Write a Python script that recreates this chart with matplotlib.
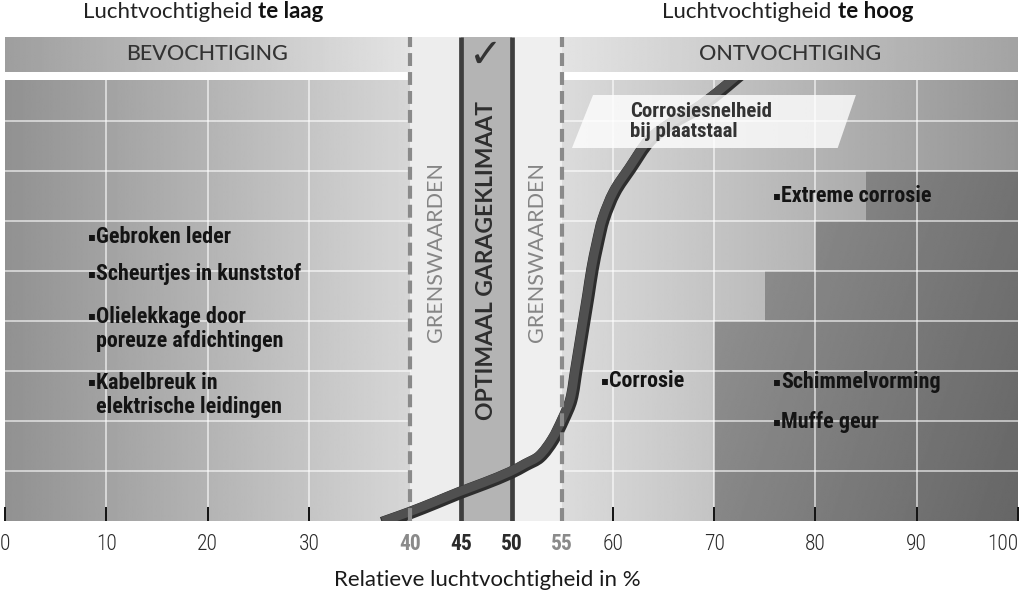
import numpy as np
import matplotlib
matplotlib.use("Agg")
import matplotlib.pyplot as plt
from matplotlib.patches import Polygon, Rectangle, PathPatch
from matplotlib.path import Path
from matplotlib import transforms
from matplotlib import font_manager as fm

# ---------------- data ----------------
x_ticks = [0, 10, 20, 30, 40, 45, 50, 55, 60, 70, 80, 90, 100]
tick_labels = [str(v) for v in x_ticks]
grey_ticks = [40, 55]
bold_ticks = [40, 45, 50, 55]

# corrosion-rate curve for sheet steel (relative humidity %, relative rate)
curve_rh = [37.8, 40.0, 42.5, 44.9, 47.4, 49.9, 51.4, 52.8, 54.1, 55.1, 55.9,
            56.4, 56.8, 57.2, 57.6, 58.0, 58.5, 59.1, 60.2, 61.7, 63.7, 65.9,
            68.3, 70.3, 72.2]
curve_rate = [0.0, 0.16, 0.36, 0.56, 0.75, 0.96, 1.12, 1.28, 1.62, 2.02, 2.42,
              3.02, 3.52, 4.02, 4.52, 5.04, 5.54, 6.04, 6.58, 7.04, 7.62, 7.96,
              8.24, 8.54, 8.86]

# staircase (mould / extreme corrosion zone)
stair_rh = [70, 75, 80, 85, 100]
stair_level = [4, 5, 6, 7, 7]

# zones
humidify = (0, 40)
border_low = (40, 45)
optimal = (45, 50)
border_high = (50, 55)
dehumidify = (55, 100)

left_items = ["Gebroken leder", "Scheurtjes in kunststof",
              "Olielekkage door\nporeuze afdichtingen",
              "Kabelbreuk in\nelektrische leidingen"]
left_item_y = [5.68, 4.94, 3.84, 2.52]
right_items = ["Corrosie", "Extreme corrosie", "Schimmelvorming", "Muffe geur"]
right_item_x = [59.6, 76.6, 76.6, 76.6]
right_item_y = [2.80, 6.50, 2.78, 1.98]


# ---------------- fonts ----------------
def weights_of(name):
    ws = set()
    for f in fm.fontManager.ttflist:
        if f.name == name and f.style == "normal":
            try:
                ws.add(int(f.weight))
            except (TypeError, ValueError):
                pass
    return ws


def pick(cands, weight):
    for c in cands:
        if any(abs(w - weight) <= 100 for w in weights_of(c)):
            return [c, "DejaVu Sans"]
    return ["DejaVu Sans"]


COND = ["Roboto Condensed", "Archivo Narrow", "Arial Narrow",
        "Liberation Sans Narrow", "PT Sans Narrow", "IBM Plex Sans Condensed",
        "Fira Sans Condensed", "Encode Sans Condensed"]
NARROW_B = pick(COND, 700)
NARROW_L = pick(COND, 300)
SANS = pick(["Lato", "Open Sans", "Noto Sans"], 400)
ITEM_W = 800 if 800 in weights_of(NARROW_B[0]) else 700

# ---------------- layout ----------------
PANEL_TOP = 8.82
HEAD_BOT, HEAD_TOP = 8.98, 9.68
YMAX = 10.42

fig = plt.figure(figsize=(10.23, 5.93), dpi=100)
ax = fig.add_axes([5 / 1023, 72 / 593, 1013 / 1023, 521 / 593])
ax.set_xlim(0, 100)
ax.set_ylim(0, YMAX)
for s in ax.spines.values():
    s.set_visible(False)
ax.set_yticks([])


def grad(x0, x1, y0, y1, v0, v1, z=0):
    arr = np.linspace(v0, v1, 256)[None, :]
    return ax.imshow(arr, extent=[x0, x1, y0, y1], cmap="gray", vmin=0, vmax=1,
                     aspect="auto", interpolation="bilinear", zorder=z)


# panels
grad(humidify[0], humidify[1], 0, PANEL_TOP, 0.57, 0.84)
grad(dehumidify[0], dehumidify[1], 0, PANEL_TOP, 0.86, 0.58)
# header bars
grad(humidify[0], humidify[1], HEAD_BOT, HEAD_TOP, 0.62, 0.89)
grad(dehumidify[0], dehumidify[1], HEAD_BOT, HEAD_TOP, 0.89, 0.64)

# staircase dark zone with 2D gradient
verts = [(stair_rh[0], 0), (stair_rh[0], stair_level[0])]
for i in range(1, len(stair_rh)):
    verts.append((stair_rh[i], stair_level[i - 1]))
    verts.append((stair_rh[i], stair_level[i]))
verts.append((stair_rh[-1], 0))
stair_poly = Polygon(verts, closed=True, transform=ax.transData,
                     facecolor="none", edgecolor="none")
ax.add_patch(stair_poly)
gx = np.linspace(0, 1, 200)[None, :]
gy = np.linspace(1, 0, 200)[:, None]
arr2 = 0.53 - 0.13 * gx + 0.05 * gy
im2 = ax.imshow(arr2, extent=[stair_rh[0], stair_rh[-1], 0, max(stair_level)],
                cmap="gray", vmin=0, vmax=1, aspect="auto",
                interpolation="bilinear", zorder=0.5)
im2.set_clip_path(stair_poly)

# middle bands
ax.add_patch(Rectangle((border_low[0], 0), border_low[1] - border_low[0], HEAD_TOP,
                       facecolor="#ededed", edgecolor="none", zorder=1))
ax.add_patch(Rectangle((optimal[0], 0), optimal[1] - optimal[0], HEAD_TOP,
                       facecolor="#b4b4b4", edgecolor="none", zorder=1))
ax.add_patch(Rectangle((border_high[0], 0), border_high[1] - border_high[0], HEAD_TOP,
                       facecolor="#efefef", edgecolor="none", zorder=1))

# grid lines
gcol = (1, 1, 1, 0.62)
for lv in range(1, 9):
    ax.plot([humidify[0], humidify[1]], [lv, lv], color=gcol, lw=1.3, zorder=1.5)
    ax.plot([dehumidify[0], dehumidify[1]], [lv, lv], color=gcol, lw=1.3, zorder=1.5)
for gxv in [10, 20, 30, 60, 70, 80, 90]:
    ax.plot([gxv, gxv], [0, PANEL_TOP], color=gcol, lw=1.3, zorder=1.5)

# optimal lines
for v in optimal:
    ax.plot([v, v], [0, HEAD_TOP], color="#3e3e3e", lw=3.4, zorder=2,
            solid_capstyle="butt")


# curve: smooth Bezier path through the read points (chord-length Hermite,
# computed in display-like units so that the bends look even)
def smooth_path(xs, ys, sx=10.13, sy=50.0):
    sc = np.array([sx, sy])
    P = np.column_stack([xs, ys]).astype(float) * sc
    d = np.linalg.norm(np.diff(P, axis=0), axis=1)
    t = np.concatenate([[0.0], np.cumsum(d)])
    n = len(P)
    m = np.zeros_like(P)
    m[0] = (P[1] - P[0]) / (t[1] - t[0])
    m[-1] = (P[-1] - P[-2]) / (t[-1] - t[-2])
    for i in range(1, n - 1):
        m[i] = (P[i + 1] - P[i - 1]) / (t[i + 1] - t[i - 1])
    vv = [P[0]]
    cc = [Path.MOVETO]
    for i in range(n - 1):
        h = t[i + 1] - t[i]
        vv += [P[i] + m[i] * h / 3.0, P[i + 1] - m[i + 1] * h / 3.0, P[i + 1]]
        cc += [Path.CURVE4] * 3
    return Path(np.array(vv) / sc, cc)


clip_rect = Rectangle((0, 0), 100, PANEL_TOP, transform=ax.transData,
                      facecolor="none", edgecolor="none")
ax.add_patch(clip_rect)
cpath = smooth_path(curve_rh, curve_rate)
c1 = PathPatch(cpath, facecolor="none", edgecolor="#2e2e2e", lw=9.0,
               capstyle="projecting", joinstyle="round", zorder=4)
ax.add_patch(c1)
c1.set_clip_path(clip_rect)
off = transforms.offset_copy(ax.transData, fig=fig, x=-0.8, y=0.8, units="points")
c2 = PathPatch(cpath, facecolor="none", edgecolor="#505050", lw=6.5,
               capstyle="projecting", joinstyle="round", zorder=4.1,
               transform=off)
ax.add_patch(c2)
c2.set_clip_path(clip_rect)

# dashed border lines (over the curve)
for v in (border_low[0], border_high[1]):
    ax.plot([v, v], [0, HEAD_TOP], color="#8a8a8a", lw=3.0, zorder=5,
            linestyle=(0, (3.1, 1.45)))

# parallelogram label
para = Polygon([(58.05, 8.52), (84.0, 8.52), (82.2, 7.46), (55.97, 7.46)],
               closed=True, facecolor="white", edgecolor="none", alpha=0.8,
               zorder=6)
ax.add_patch(para)
ax.text(61.7, 7.99, "Corrosiesnelheid\nbij plaatstaal", family=NARROW_B,
        fontweight=ITEM_W, fontsize=15, color="#333333", ha="left",
        va="center", linespacing=1.12, zorder=7)

# item texts
ICOL = "#141414"
ITEM_FS = 15.8
for txt, yv in zip(left_items, left_item_y):
    first = yv + (0.26 if "\n" in txt else 0)
    ax.text(8.2, first, "\u25aa", family=["DejaVu Sans"], fontsize=8.5,
            color=ICOL, ha="left", va="center", zorder=7)
    ax.text(9.0, yv, txt, family=NARROW_B, fontweight=ITEM_W, fontsize=ITEM_FS,
            color=ICOL, ha="left", va="center", linespacing=1.17, zorder=7)
for txt, xv, yv in zip(right_items, right_item_x, right_item_y):
    ax.text(xv - 0.8, yv, "\u25aa", family=["DejaVu Sans"], fontsize=8.5,
            color=ICOL, ha="left", va="center", zorder=7)
    ax.text(xv, yv, txt, family=NARROW_B, fontweight=ITEM_W, fontsize=ITEM_FS,
            color=ICOL, ha="left", va="center", zorder=7)

# vertical zone texts
for xv in (42.5, 52.5):
    ax.text(xv, 5.38, "GRENSWAARDEN", rotation=90, family=SANS, fontsize=15.5,
            color="#858585", ha="center", va="center", zorder=7)
ax.text(47.5, 5.2, "OPTIMAAL GARAGEKLIMAAT", rotation=90, family=SANS,
        fontweight="bold", fontsize=16.5, color="#2e2e2e", ha="center",
        va="center", zorder=7)
ax.text(47.5, 9.30, "\u2713", family=["DejaVu Sans"], fontweight="bold",
        fontsize=29, color="#333333", ha="center", va="center", zorder=7)

# header labels
ax.text(19.9, 9.33, "BEVOCHTIGING", family=SANS, fontweight="medium",
        fontsize=15.5, color="#333333", ha="center", va="center", zorder=7)
ax.text(77.5, 9.33, "ONTVOCHTIGING", family=SANS, fontweight="medium",
        fontsize=15.5, color="#333333", ha="center", va="center", zorder=7)

# top titles (mixed weight)
for x0, bold in [(7.7, "te laag"), (64.9, "te hoog")]:
    t1 = ax.text(x0, 9.97, "Luchtvochtigheid ", family=SANS, fontsize=16,
                 color="#222222", ha="left", va="bottom")
    ax.annotate(bold, xy=(1, 0), xycoords=t1, family=SANS, fontsize=16,
                fontweight="bold", color="#111111", ha="left", va="bottom")

# x axis
ax.set_xticks(x_ticks)
ax.set_xticklabels(tick_labels)
ax.tick_params(axis="x", direction="in", length=10, width=1.4, color="#111111",
               pad=9, labelsize=15.5)
for tk, v in zip(ax.xaxis.get_major_ticks(), x_ticks):
    lab = tk.label1
    if v in bold_ticks:
        tk.tick1line.set_visible(False)
        lab.set_family(NARROW_B)
        lab.set_fontweight("bold")
    else:
        lab.set_family(NARROW_L)
        lab.set_fontweight("light")
    if v == x_ticks[-1]:
        lab.set_horizontalalignment("right")
    lab.set_color("#8a8a8a" if v in grey_ticks else "#2a2a2a")
ax.set_xlabel("Relatieve luchtvochtigheid in %", family=SANS, fontsize=16,
              color="#1a1a1a", va="center")
ax.xaxis.set_label_coords((487 - 5) / 1013, (521 - 580) / 521)

fig.savefig("out.png", dpi=100)
